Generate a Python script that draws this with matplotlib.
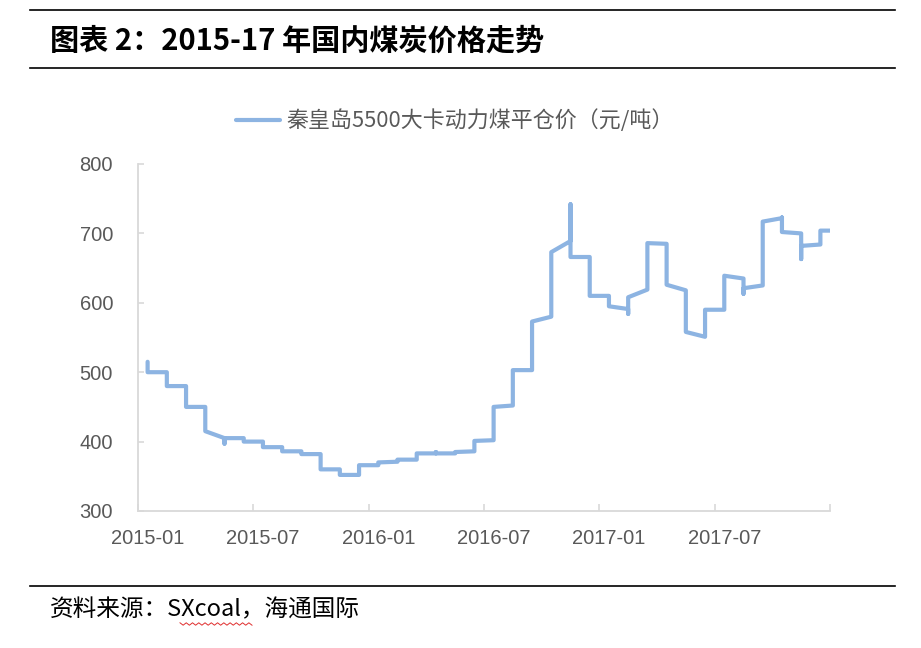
import numpy as np
import matplotlib
matplotlib.use('Agg')
import matplotlib.pyplot as plt

plt.rcParams['font.family'] = ['Liberation Sans', 'Noto Sans CJK SC', 'DejaVu Sans']

# months on the axis (monthly slots, Excel date axis)
monthLabels = ['2015-01', '2015-07', '2016-01', '2016-07', '2017-01', '2017-07']
firstMonth = '2015-01'

# values inside each month, in order (2015-01 ... 2017-12, then 2018-01 clipped)
monthValues = [
    [515, 500], [500, 480], [480, 450], [450, 415], [405, 397, 405], [405, 400],
    [400, 392], [392, 386], [386, 382], [382, 360], [360, 352], [352, 366],
    [366, 370], [371, 374], [374, 383], [383, 385, 383], [383, 385], [386, 401],
    [402, 450], [452, 503], [503, 573], [580, 673], [689, 742, 666], [666, 610],
    [610, 595], [591, 584, 608], [619, 686], [685, 626], [618, 558], [551, 590],
    [590, 639], [635, 613, 621], [625, 717], [722, 723, 702], [700, 663, 682], [684, 704],
    [704],
]
seriesName = '秦皇岛5500大卡动力煤平仓价（元/吨）'

xs = []
ys = []
for k in range(len(monthValues)):
    for v in monthValues[k]:
        xs.append(k)
        ys.append(v)

fig = plt.figure(figsize=(9.21, 6.48), dpi=100)
ax = fig.add_axes([138 / 921, 1 - 511 / 648, (830 - 138) / 921, (511 - 164) / 648])

line, = ax.plot(xs, ys, color='#8db4e2', lw=3, solid_joinstyle='round',
                solid_capstyle='round', label=seriesName)

ax.set_xlim(-0.5, 35.5)
ax.set_ylim(300, 800)
ax.set_yticks(range(300, 801, 100))

# ticks at month-slot borders, labels at slot centers
ax.set_xticks(np.arange(-0.5, 36, 6))
ax.set_xticklabels([])
ax.set_xticks(np.arange(0, 31, 6), minor=True)
ax.set_xticklabels(monthLabels, minor=True)

for s in ['top', 'right']:
    ax.spines[s].set_visible(False)
for s in ['left', 'bottom']:
    ax.spines[s].set_color('#d9d9d9')
    ax.spines[s].set_linewidth(1.3)

ax.tick_params(axis='y', direction='in', length=4, width=1.2, color='#d9d9d9',
               labelsize=14.5, labelcolor='#595959', pad=18)
ax.tick_params(axis='x', which='major', direction='in', length=5, width=1.2, color='#d9d9d9')
ax.tick_params(axis='x', which='minor', length=0, labelsize=14.5, labelcolor='#595959', pad=13)

leg = fig.legend(handles=[line], loc='center', bbox_to_anchor=(455 / 921, 1 - 121 / 648),
                 frameon=False, handlelength=2.0, handletextpad=0.3,
                 prop={'family': ['Noto Sans CJK SC', 'DejaVu Sans'], 'size': 15.8})
for t in leg.get_texts():
    t.set_color('#595959')

# header / footer rules
for yy in [10, 68, 586]:
    fig.add_artist(plt.Line2D([30 / 921, 895 / 921], [1 - yy / 648, 1 - yy / 648],
                              color='black', lw=1.2))

fig.text(50 / 921, 1 - 41 / 648, '图表 2：2015-17 年国内煤炭价格走势', fontsize=21,
         fontweight='bold', family=['Noto Sans CJK SC', 'DejaVu Sans'], va='center', ha='left')
fig.text(50 / 921, 1 - 610 / 648, '资料来源：SXcoal，海通国际', fontsize=17,
         family=['Noto Sans CJK SC', 'DejaVu Sans'], va='center', ha='left')

# spell-check squiggle under SXcoal
sq_x = np.linspace(180, 252, 24)
sq_y = 624 + np.where(np.arange(24) % 2 == 0, -1.2, 1.2)
fig.add_artist(plt.Line2D(sq_x / 921, 1 - sq_y / 648, color='#e03030', lw=0.7))

fig.savefig('out.png', dpi=100)
